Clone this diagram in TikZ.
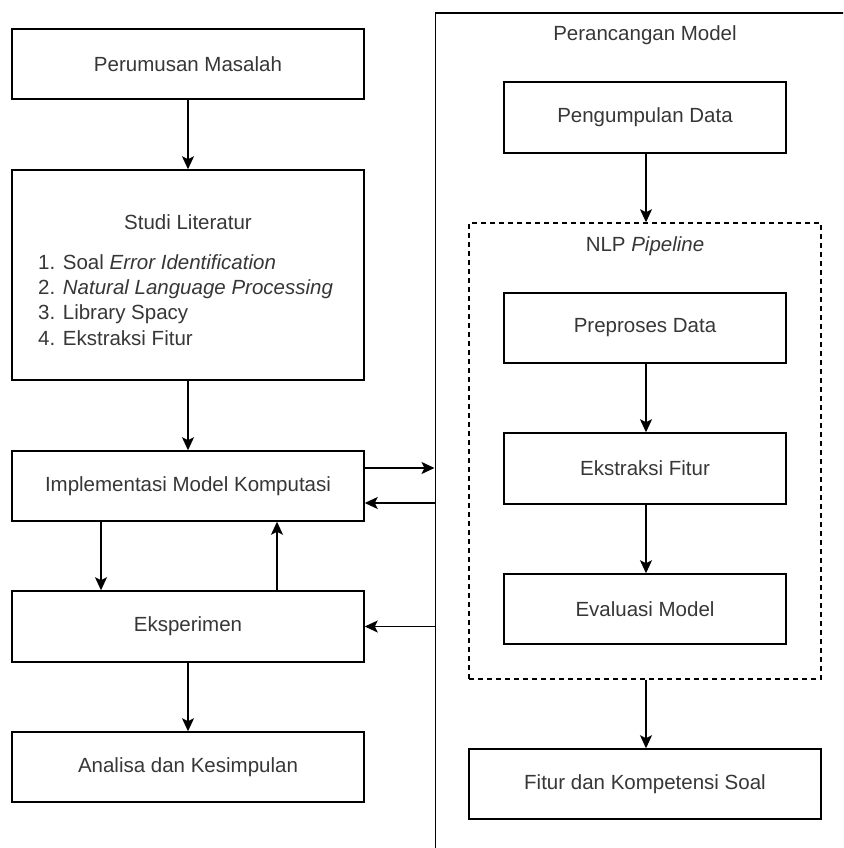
\documentclass[tikz,border=0pt]{standalone}
\usepackage{fontspec}
\setmainfont{Liberation Sans}
\usetikzlibrary{arrows.meta}
\definecolor{txt}{RGB}{55,55,55}
\begin{document}
\begin{tikzpicture}[x=1pt,y=-1pt,
  font=\fontsize{20.5}{25.3}\selectfont,
  box/.style={draw, line width=1.5pt, fill=white, inner sep=0pt, text=txt, align=center},
  lbox/.style={box, minimum width=352pt, minimum height=70pt},
  rbox/.style={box, minimum width=282pt, minimum height=70pt},
  conn/.style={line width=1.4pt, -{Stealth[length=13pt,width=12pt,inset=3pt]}},
  lbl/.style={text=txt, inner sep=0pt}]
\useasboundingbox (0,0) rectangle (843,848);
\clip (0,0) rectangle (843,848);
% big container (top and left edges visible)
\node[draw, line width=1.6pt, inner sep=0pt, minimum width=440pt, minimum height=880pt, anchor=north west] (pm) at (434.5,12) {};
\node[lbl] (pmt) at (645,35) {Perancangan Model};
% left column
\node[lbox] (per) at (188,64) {Perumusan Masalah};
\node[lbox, minimum height=210pt] (stu) at (188,275) {};
\node[lbl] (stut) at (188,222) {Studi Literatur};
\node[lbl, align=left, anchor=west] (stul) at (38,300) {1. Soal \textit{Error Identification}\\2. \textit{Natural Language Processing}\\3. Library Spacy\\4. Ekstraksi Fitur};
\node[lbox] (imp) at (188,486) {Implementasi Model Komputasi};
\node[lbox, minimum height=71pt] (eks) at (188,626.5) {Eksperimen};
\node[lbox] (ana) at (188,767) {Analisa dan Kesimpulan};
% right column
\node[rbox, minimum height=71pt] (pen) at (645,117.5) {Pengumpulan Data};
\node[draw, line width=1.5pt, dash pattern=on 5pt off 4pt, inner sep=0pt, minimum width=352pt, minimum height=456pt] (nlp) at (645,451) {};
\node[lbl] (nlpt) at (645,246) {NLP \textit{Pipeline}};
\node[rbox] (pre) at (645,328) {Preproses Data};
\node[rbox, minimum height=71pt] (ekf) at (645,468.5) {Ekstraksi Fitur};
\node[rbox] (eva) at (645,609) {Evaluasi Model};
\node[box, minimum width=352pt, minimum height=70pt] (fit) at (645,784) {Fitur dan Kompetensi Soal};
% connectors
\draw[conn] (per) -- (stu);
\draw[conn] (stu) -- (imp);
\draw[conn] (imp.south -| 101,0) -- (eks.north -| 101,0);
\draw[conn] (eks.north -| 277,0) -- (imp.south -| 277,0);
\draw[conn] (eks) -- (ana);
\draw[conn] (imp.east |- 0,468) -- (pm.west |- 0,468);
\draw[conn] (pm.west |- 0,503) -- (imp.east |- 0,503);
\draw[conn] (pm.west |- eks.east) -- (eks.east);
\draw[conn] (pen.south -| 646,0) -- (nlp.north -| 646,0);
\draw[conn] (pre.south -| 646,0) -- (ekf.north -| 646,0);
\draw[conn] (ekf.south -| 646,0) -- (eva.north -| 646,0);
\draw[conn] (nlp.south -| 646,0) -- (fit.north -| 646,0);
\end{tikzpicture}
\end{document}
